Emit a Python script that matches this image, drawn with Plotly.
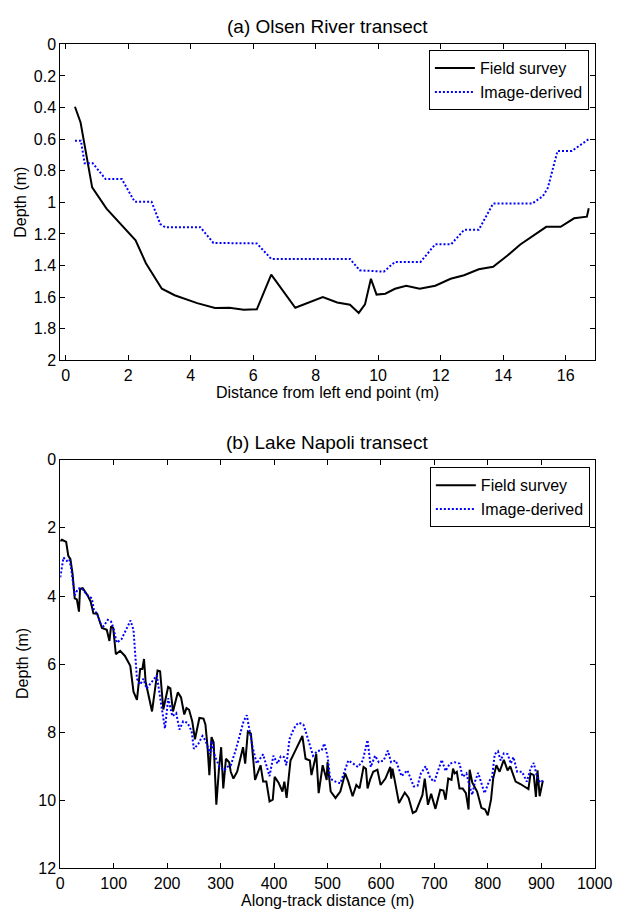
import plotly.graph_objects as go

# ---------------- (a) Olsen River transect ----------------
olsen_field_x = [0.30, 0.48, 0.85, 1.31, 2.24, 2.57, 3.08, 3.49, 4.21, 4.78, 5.24, 5.70, 6.12, 6.58,
                 7.35, 7.92, 8.23, 8.69, 9.10, 9.38, 9.58, 9.77, 9.95, 10.23, 10.54, 10.90, 11.33,
                 11.83, 12.32, 12.75, 13.22, 13.68, 14.14, 14.55, 14.99, 15.38, 15.84, 16.27, 16.68, 16.74]
olsen_field_d = [0.395, 0.495, 0.905, 1.04, 1.24, 1.385, 1.547, 1.588, 1.638, 1.669, 1.667, 1.679, 1.677, 1.458,
                 1.667, 1.623, 1.600, 1.634, 1.648, 1.700, 1.646, 1.484, 1.584, 1.578, 1.547, 1.528, 1.547,
                 1.528, 1.484, 1.461, 1.424, 1.408, 1.337, 1.267, 1.207, 1.155, 1.155, 1.101, 1.091, 1.037]

olsen_image_x = [0.30, 0.49, 0.61, 0.87, 1.28, 1.80, 2.21, 2.75, 3.03, 3.18, 4.31, 4.73, 6.12, 6.58,
                 9.10, 9.41, 10.18, 10.54, 11.36, 11.83, 12.34, 12.75, 13.22, 13.68, 14.93, 15.27,
                 15.43, 15.74, 16.20, 16.46, 16.74]
olsen_image_d = [0.61, 0.61, 0.753, 0.753, 0.853, 0.853, 0.996, 0.996, 1.137, 1.157, 1.157, 1.257, 1.26, 1.358,
                 1.358, 1.43, 1.439, 1.377, 1.377, 1.265, 1.265, 1.174, 1.174, 1.008, 1.008, 0.961,
                 0.909, 0.675, 0.675, 0.64, 0.60]

olsen_xticks = [0, 2, 4, 6, 8, 10, 12, 14, 16]

# ---------------- (b) Lake Napoli transect ----------------
napoli_field_x = [0, 3, 11, 15, 19, 23, 27, 31, 35, 37, 42, 51, 57, 62, 69, 75, 78, 87, 92, 95, 99, 104,
                  112, 121, 126.5, 131, 137, 143.5, 149.5, 153.6, 156.7, 159.7, 171.7, 182, 186.8, 192.8,
                  201.8, 206, 210.9, 219.9, 226, 232, 236.2, 241, 247, 252, 260.3, 268, 271.6, 275.4,
                  279, 283, 287, 292, 297, 301, 305, 310, 316, 319, 324, 331, 342, 346, 351, 356.7,
                  364.5, 374.8, 379.6, 385.6, 391.6, 397.6, 401.2, 408.4, 415.7, 419.3, 423.5, 430.8,
                  439.8, 448.9, 453, 459, 467, 470, 479, 483.5, 491, 498.5, 500, 506, 515, 524, 533,
                  539, 547, 554, 560, 567.5, 572, 575, 579.6, 585.6, 593.4, 599.4, 608.4, 617.5, 619.3,
                  621.7, 629.6, 633.8, 644.6, 651.8, 659.6, 665.6, 677.7, 682, 688, 694, 702, 711, 717,
                  721, 726, 732, 735, 738, 742, 747, 753, 759, 764, 766, 771, 780, 788, 795, 800, 806,
                  810, 816, 822, 830, 837, 842, 852, 861, 876, 880, 886, 890, 893, 897, 903]
napoli_field_d = [2.39, 2.35, 2.41, 2.82, 2.92, 3.35, 4.07, 4.10, 4.46, 3.79, 3.77, 3.98, 4.17, 4.51, 4.52,
                  4.84, 4.94, 4.99, 5.32, 4.89, 4.94, 5.71, 5.61, 5.76, 5.90, 6.05, 6.81, 7.05, 6.14, 6.14,
                  5.85, 6.52, 7.39, 6.19, 6.21, 7.33, 6.67, 6.71, 7.39, 6.83, 6.98, 7.48, 7.29, 7.34, 7.68,
                  8.21, 7.58, 7.60, 7.77, 8.40, 9.26, 8.14, 8.30, 10.13, 9.07, 8.44, 9.65, 8.78, 8.88,
                  9.16, 9.36, 9.16, 8.44, 8.92, 7.98, 8.04, 9.40, 8.97, 9.45, 9.45, 10.03, 9.98, 9.31,
                  9.48, 9.74, 9.45, 9.93, 8.83, 8.54, 8.25, 8.11, 8.78, 8.83, 9.26, 8.64, 9.79, 8.97,
                  9.40, 8.88, 9.74, 9.93, 9.74, 9.21, 9.45, 9.88, 9.55, 9.65, 9.02, 9.07, 9.65, 9.40,
                  9.16, 9.10, 9.55, 9.36, 9.02, 9.36, 9.07, 9.69, 10.08, 9.77, 9.93, 10.37, 10.32, 9.84,
                  9.36, 10.13, 9.81, 10.25, 9.69, 9.71, 9.98, 9.36, 9.40, 9.07, 9.21, 9.16, 9.65, 9.65,
                  9.79, 10.27, 9.10, 9.48, 9.74, 10.22, 10.27, 10.44, 9.98, 9.36, 8.97, 9.16, 8.81, 9.12,
                  9.00, 9.45, 9.52, 9.67, 9.21, 9.26, 9.90, 9.12, 9.88, 9.42]

napoli_image_x = [0, 6, 12, 17, 21, 27, 33, 39, 51, 59, 63, 69, 75, 81, 89, 95, 99.5, 105.5, 114.5, 123.6,
                  131.4, 137, 143.5, 149.5, 155.5, 161.5, 168.8, 174.7, 180.7, 188, 195.9, 202, 209.7,
                  216.9, 223, 230, 238, 245.8, 250, 258, 266, 272, 280, 283, 289, 298, 307, 316, 319,
                  328, 334, 343, 349, 354, 360, 367.5, 373.5, 379.5, 385.6, 391.6, 398.8, 406.6, 412.6,
                  418.7, 423, 429, 435, 439.8, 445.8, 454.8, 460.8, 467, 473, 482, 489, 494, 500, 505,
                  515, 524, 531, 539, 548, 557, 566, 575, 581, 589, 596, 605, 613, 619, 627.8, 638.6,
                  649.5, 661.4, 668.6, 674.7, 683.7, 692.8, 700, 707.8, 713.8, 721, 729, 738, 747, 753,
                  760, 766, 771, 776, 782, 788, 794, 802, 808, 813, 819, 824, 830, 837, 843, 848, 855,
                  864, 873, 880, 886, 892, 898, 903]
napoli_image_d = [3.45, 2.87, 2.97, 2.92, 3.26, 3.98, 3.79, 3.76, 3.98, 4.07, 4.41, 4.52, 4.80, 4.89, 4.70,
                  4.75, 4.94, 5.37, 5.27, 4.99, 4.72, 4.99, 6.43, 6.60, 6.43, 6.72, 6.57, 6.48, 6.33,
                  7.10, 7.89, 7.00, 7.53, 7.44, 7.92, 7.68, 7.72, 7.97, 8.49, 8.35, 8.11, 8.25, 8.64,
                  8.25, 8.69, 9.02, 9.12, 8.97, 8.97, 8.54, 8.16, 7.68, 7.50, 7.97, 8.44, 8.92, 8.78,
                  8.65, 8.97, 9.29, 8.69, 8.92, 8.71, 8.73, 8.97, 8.20, 7.97, 7.82, 7.72, 7.77, 8.06,
                  8.35, 8.69, 8.54, 8.54, 8.33, 8.69, 9.36, 9.45, 9.50, 9.16, 8.83, 8.92, 9.02, 8.83,
                  8.23, 9.02, 8.69, 8.88, 8.83, 8.54, 8.88, 8.83, 9.29, 9.12, 9.59, 9.57, 9.21, 9.00,
                  9.36, 9.45, 9.12, 8.81, 9.14, 8.92, 8.88, 8.92, 9.31, 9.21, 9.59, 9.84, 9.45, 9.19,
                  9.50, 9.79, 9.45, 9.31, 8.64, 8.56, 8.83, 8.62, 8.64, 8.92, 8.73, 9.16, 9.16, 9.45,
                  9.07, 8.90, 9.31, 9.48, 9.42]

napoli_xticks = [0, 100, 200, 300, 400, 500, 600, 700, 800, 900, 1000]

W, H = 632, 918
FONT = "Arial, Liberation Sans, sans-serif"
BLUE = "#0000ff"


def px_x(p):
    return p / W


def px_y(p):
    return 1 - p / H


fig = go.Figure()

fig.add_trace(go.Scatter(x=olsen_field_x, y=olsen_field_d, mode="lines", name="Field survey",
                         line=dict(color="black", width=2), xaxis="x", yaxis="y", legend="legend"))
fig.add_trace(go.Scatter(x=olsen_image_x, y=olsen_image_d, mode="lines", name="Image-derived",
                         line=dict(color=BLUE, width=2, dash="2px,2px"), xaxis="x", yaxis="y",
                         legend="legend"))
fig.add_trace(go.Scatter(x=napoli_field_x, y=napoli_field_d, mode="lines", name="Field survey",
                         line=dict(color="black", width=2), xaxis="x2", yaxis="y2", legend="legend2"))
fig.add_trace(go.Scatter(x=napoli_image_x, y=napoli_image_d, mode="lines", name="Image-derived",
                         line=dict(color=BLUE, width=2, dash="2px,2px"), xaxis="x2", yaxis="y2",
                         legend="legend2"))

axis_common = dict(showline=True, linecolor="black", linewidth=1, mirror="ticks", ticks="inside",
                   ticklen=5, tickcolor="black", showgrid=False, zeroline=False,
                   tickfont=dict(family=FONT, size=16, color="black"))

xdom = [px_x(58.3), px_x(612)]
fig.update_layout(
    width=W, height=H,
    margin=dict(l=0, r=0, t=0, b=0),
    paper_bgcolor="white", plot_bgcolor="white",
    font=dict(family=FONT, size=16, color="black"),
    xaxis=dict(domain=xdom, anchor="y", range=[-0.17, 16.93], tickvals=olsen_xticks, **axis_common),
    yaxis=dict(domain=[px_y(359), px_y(37)], anchor="x", range=[2, 0], dtick=0.2, tick0=0,
               **axis_common),
    xaxis2=dict(domain=xdom, anchor="y2", range=[0, 1000], tickvals=napoli_xticks, **axis_common),
    yaxis2=dict(domain=[px_y(876.7), px_y(460.3)], anchor="x2", range=[12, 0], dtick=2, tick0=0,
                **axis_common),
    legend=dict(x=px_x(606), xanchor="right", y=px_y(43), yanchor="top", bgcolor="white",
                bordercolor="black", borderwidth=1, font=dict(family=FONT, size=16),
                itemwidth=40, tracegroupgap=0),
    legend2=dict(x=px_x(607), xanchor="right", y=px_y(468), yanchor="top", bgcolor="white",
                 bordercolor="black", borderwidth=1, font=dict(family=FONT, size=16),
                 itemwidth=40, tracegroupgap=0),
    showlegend=True,
)

annotations = [
    dict(text="(a) Olsen River transect", x=px_x(335), y=px_y(19), font=dict(size=19)),
    dict(text="(b) Lake Napoli transect", x=px_x(335), y=px_y(443), font=dict(size=19)),
    dict(text="Distance from left end point (m)", x=px_x(335), y=px_y(392), font=dict(size=16)),
    dict(text="Along-track distance (m)", x=px_x(335), y=px_y(909), font=dict(size=16)),
    dict(text="Depth (m)", x=px_x(17), y=px_y(198), textangle=-90, font=dict(size=16)),
    dict(text="Depth (m)", x=px_x(19), y=px_y(668), textangle=-90, font=dict(size=16)),
]
for a in annotations:
    a.update(xref="paper", yref="paper", showarrow=False, xanchor="center", yanchor="middle")
    a["font"].update(family=FONT, color="black")
fig.update_layout(annotations=annotations)

fig.write_html("out.html")
